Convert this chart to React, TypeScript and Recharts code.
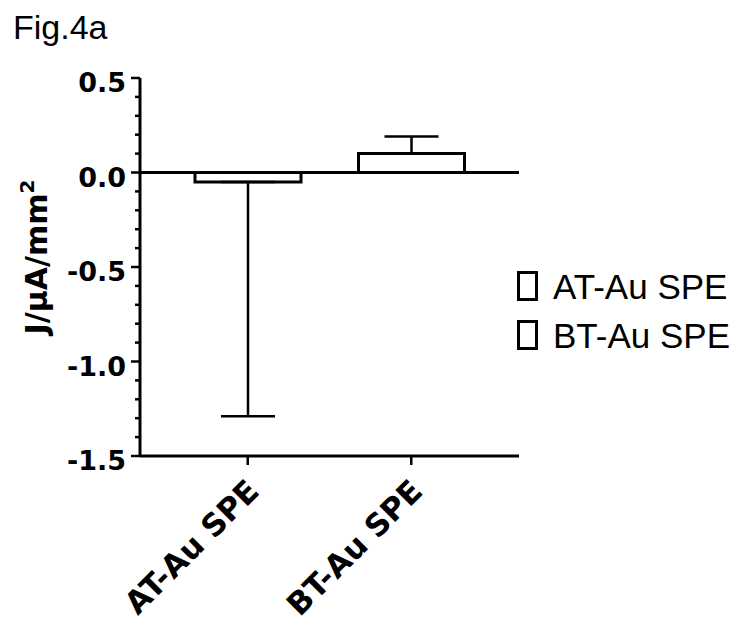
import React from "react";
import { BarChart, Bar, XAxis, YAxis, ErrorBar, ReferenceLine } from "recharts";

const CATEGORIES = ["AT-Au SPE", "BT-Au SPE"];
const MEANS = [-0.05, 0.1];
const ERR_DOWN = [1.24, 0];
const ERR_UP = [0, 0.09];

const Y_TICKS = [
  -1.5, -1.4, -1.3, -1.2, -1.1, -1.0, -0.9, -0.8, -0.7, -0.6, -0.5, -0.4, -0.3, -0.2, -0.1,
  0, 0.1, 0.2, 0.3, 0.4, 0.5,
];
const Y_MAJOR = [-1.5, -1.0, -0.5, 0, 0.5];

const FONT = '"Liberation Sans", Arial, sans-serif';
const BOLD_FONT = '"DejaVu Sans", Verdana, sans-serif';

const data = CATEGORIES.map((name, i) => ({
  name,
  value: MEANS[i],
  err: [ERR_DOWN[i], ERR_UP[i]],
}));

const YTick = (props: any) => {
  const { x, y, payload } = props;
  const v = payload.value;
  const major = Y_MAJOR.some((m) => Math.abs(m - v) < 1e-6);
  return (
    <g>
      <line x1={x - (major ? 9 : 5)} x2={x} y1={y} y2={y} stroke="#000" strokeWidth={2.5} />
      {major && (
        <text
          x={x - 14}
          y={y + 14}
          textAnchor="end"
          fontFamily={BOLD_FONT}
          fontWeight="bold"
          fontSize={27}
          fill="#000"
        >
          {v.toFixed(1)}
        </text>
      )}
    </g>
  );
};

const XTick = (props: any) => {
  const { x, y, payload } = props;
  const tx = x + 13;
  const ty = y + 26;
  return (
    <text
      x={tx}
      y={ty}
      transform={`rotate(-45, ${tx}, ${ty})`}
      textAnchor="end"
      fontFamily={BOLD_FONT}
      fontWeight="bold"
      fontSize={31}
      fill="#000"
    >
      {payload.value}
    </text>
  );
};

export default function App() {
  return (
    <div style={{ position: "absolute", left: 0, top: 0, width: 737, height: 630, background: "#fff" }}>
      <BarChart
        width={737}
        height={630}
        data={data}
        margin={{ top: 78, right: 218, bottom: 0, left: 0 }}
        barSize={106}
      >
        <XAxis
          dataKey="name"
          height={174}
          padding={{ left: 26, right: 26 }}
          interval={0}
          axisLine={{ stroke: "#000", strokeWidth: 3 }}
          tickLine={{ stroke: "#000", strokeWidth: 2.5 }}
          tickSize={9}
          tick={<XTick />}
        />
        <YAxis
          width={140}
          type="number"
          domain={[-1.5, 0.5]}
          ticks={Y_TICKS}
          interval={0}
          axisLine={{ stroke: "#000", strokeWidth: 3 }}
          tickLine={false}
          tickSize={0}
          tickMargin={0}
          tick={<YTick />}
        />
        <ReferenceLine y={0} stroke="#000" strokeWidth={3} />
        <Bar dataKey="value" fill="#fff" stroke="#000" strokeWidth={3} isAnimationActive={false}>
          <ErrorBar dataKey="err" direction="y" width={27} stroke="#000" strokeWidth={2.5} />
        </Bar>
      </BarChart>
      <svg
        width={737}
        height={630}
        style={{ position: "absolute", left: 0, top: 0, pointerEvents: "none" }}
      >
        <text x={13} y={39} fontFamily={FONT} fontSize={34} fill="#000">
          Fig.4a
        </text>
        <text
          x={47}
          y={257}
          transform="rotate(-90, 47, 257)"
          textAnchor="middle"
          fontFamily={BOLD_FONT}
          fontWeight="bold"
          fontSize={30}
          fill="#000"
        >
          J/μA/mm
          <tspan fontSize={20} dy={-13}>
            2
          </tspan>
        </text>
        {CATEGORIES.map((c, i) => (
          <g key={c}>
            <rect x={518.5} y={272.5 + i * 49} width={18} height={27} fill="none" stroke="#000" strokeWidth={3} />
            <text x={553} y={299 + i * 49} fontFamily={FONT} fontSize={35} fill="#000">
              {c}
            </text>
          </g>
        ))}
      </svg>
    </div>
  );
}
